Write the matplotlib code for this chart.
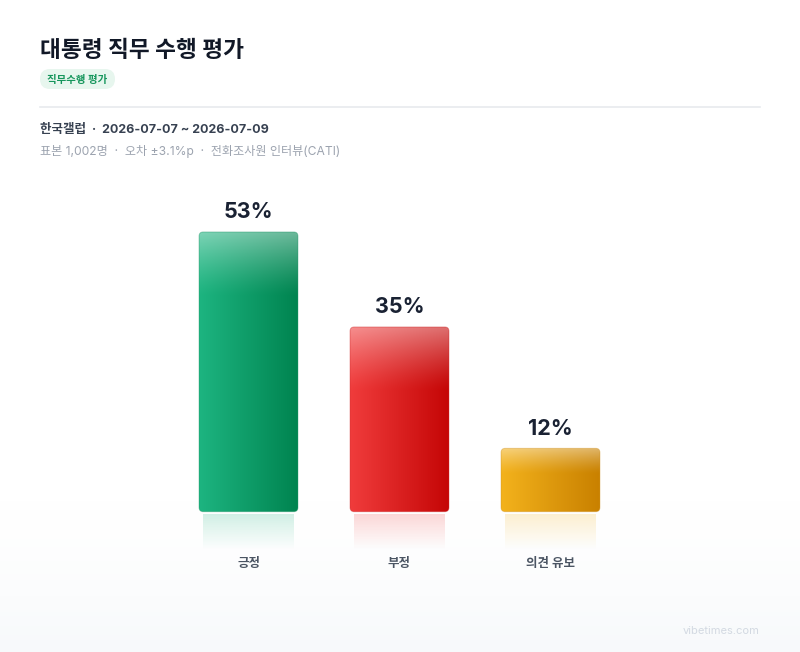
import numpy as np
import matplotlib
matplotlib.use('Agg')
import matplotlib.pyplot as plt
from matplotlib.patches import FancyBboxPatch
from matplotlib.colors import to_rgb

plt.rcParams['font.family'] = ['Inter', 'Noto Sans CJK KR', 'DejaVu Sans']

title = '대통령 직무 수행 평가'
badge = '직무수행 평가'
source_line = '한국갤럽  ·  2026-07-07 ~ 2026-07-09'
meta_line = '표본 1,002명  ·  오차 ±3.1%p  ·  전화조사원 인터뷰(CATI)'
categories = ['긍정', '부정', '의견 유보']
values = [53, 35, 12]
left_colors = ['#1db480', '#f03c3c', '#f3b21c']
right_colors = ['#008450', '#c50606', '#c98100']
watermark = 'vibetimes.com'

W, H = 800, 652
fig = plt.figure(figsize=(W / 100, H / 100), dpi=100)

# background + header, in pixel coordinates
bg = fig.add_axes([0, 0, 1, 1])
bg.set_xlim(0, W)
bg.set_ylim(H, 0)
bg.axis('off')
grad = np.ones((H, 1, 3))
t = np.clip((np.arange(H) - 500) / (H - 500), 0, 1) ** 1.5
bot = np.array(to_rgb('#f7f9fb'))
for k in range(3):
    grad[:, 0, k] = 1 - t * (1 - bot[k])
bg.imshow(grad, extent=[0, W, H, 0], aspect='auto', zorder=0)

bg.text(40, 51, title, fontsize=16.3, fontweight='bold', color='#111827', va='center', ha='left')
bg.add_patch(FancyBboxPatch((40, 69), 75, 20, boxstyle='round,pad=0,rounding_size=10',
                            fc='#e7f6ee', ec='none', zorder=2))
bg.text(77.5, 79.5, badge, fontsize=7.5, fontweight='bold', color='#16965c', va='center', ha='center', zorder=3)
bg.plot([40, 760], [107, 107], color='#e8eaee', lw=1.2)
bg.text(40, 130, source_line, fontsize=9.0, fontweight='bold', color='#374151', va='center', ha='left')
bg.text(40, 151, meta_line, fontsize=8.7, color='#9ca3af', va='center', ha='left')
bg.text(760, 631, watermark, fontsize=8, color='#d3d9e2', va='center', ha='right')

# chart axes: category i at x=i, value 0 at y=512px
ax = fig.add_axes([173 / W, 1 - 575 / H, 453 / W, 380 / H])
ax.set_xlim(-0.5, 2.5)
ax.set_ylim(-12, 60)
ax.axis('off')
ax.patch.set_alpha(0)

bw = 0.655
rs = 0.028
for i, (v, c1, c2) in enumerate(zip(values, left_colors, right_colors)):
    x0 = i - bw / 2
    a = np.array(to_rgb(c1)); b = np.array(to_rgb(c2))
    nx, ny = 100, 200
    xs = np.linspace(0, 1, nx)
    img = np.zeros((ny, nx, 3))
    for k in range(3):
        img[:, :, k] = a[k] + (b[k] - a[k]) * xs[None, :]
    # gloss at top
    ys = np.linspace(v, 0, ny)
    gloss = min(0.4 * v, 12)
    gt = np.clip(1 - (v - ys) / gloss, 0, 1) ** 1.3 * 0.42
    img = img + (1 - img) * gt[:, None, None]
    patch = FancyBboxPatch((x0, 0), bw, v, boxstyle=f'round,pad=0,rounding_size={rs}',
                           mutation_aspect=151 / 5.28, fc='none', ec='none')
    ax.add_patch(patch)
    im = ax.imshow(img, extent=[x0, x0 + bw, 0, v], aspect='auto', zorder=2)
    im.set_clip_path(patch)
    edge = FancyBboxPatch((x0, 0), bw, v, boxstyle=f'round,pad=0,rounding_size={rs}',
                          mutation_aspect=151 / 5.28, fc='none', ec=c2, lw=0.7, alpha=0.35, zorder=3)
    ax.add_patch(edge)

    # reflection
    r_top, r_bot = -0.4, -7.2
    inset = 0.027
    rimg = np.zeros((50, 2, 4))
    rimg[:, :, :3] = a
    rimg[:, :, 3] = np.linspace(0.2, 0.0, 50)[:, None]
    ax.imshow(rimg, extent=[x0 + inset, x0 + bw - inset, r_bot, r_top], aspect='auto', zorder=1)

    ax.text(i, v + 1.8, f'{v}%', fontsize=15.5, fontweight='bold', color='#1a2233',
            ha='center', va='bottom')
    ax.text(i, -9.9, categories[i], fontsize=9, fontweight='bold', color='#4b5563',
            ha='center', va='center')

ax.set_xlim(-0.5, 2.5)
ax.set_ylim(-12, 60)
fig.savefig('out.png', dpi=100)
